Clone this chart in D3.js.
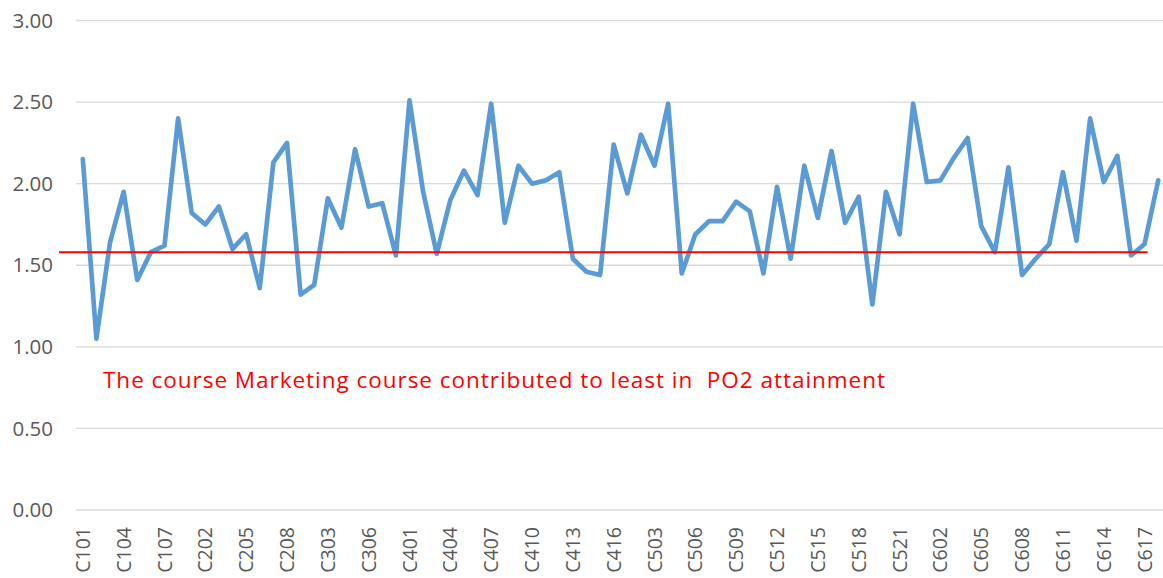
<!DOCTYPE html>
<html>
<head>
<meta charset="utf-8">
<script src="https://cdn.jsdelivr.net/npm/d3@7"></script>
<style>
  html, body { margin: 0; padding: 0; background: #fff; }
  svg { display: block; font-family: "Open Sans", sans-serif; }
</style>
</head>
<body>
<div id="chart"></div>
<script>
// course codes, one point per course
const courses = [
  'C101','C102','C103','C104','C105','C106','C107','C108',
  'C201','C202','C203','C204','C205','C206','C207','C208',
  'C301','C302','C303','C304','C305','C306','C307','C308',
  'C401','C402','C403','C404','C405','C406','C407','C408',
  'C409','C410','C411','C412','C413','C414','C415','C416',
  'C501','C502','C503','C504','C505','C506','C507','C508',
  'C509','C510','C511','C512','C513','C514','C515','C516',
  'C517','C518','C519','C520','C521','C522',
  'C601','C602','C603','C604','C605','C606','C607','C608',
  'C609','C610','C611','C612','C613','C614','C615','C616',
  'C617','C618'
]

// PO2 attainment per course
const attainment = [
  2.15, 1.05, 1.64, 1.95, 1.41, 1.58, 1.62, 2.40,
  1.82, 1.75, 1.86, 1.60, 1.69, 1.36, 2.13, 2.25,
  1.32, 1.38, 1.91, 1.73, 2.21, 1.86, 1.88, 1.56,
  2.51, 1.95, 1.57, 1.90, 2.08, 1.93, 2.49, 1.76,
  2.11, 2.00, 2.02, 2.07, 1.54, 1.46, 1.44, 2.24,
  1.94, 2.30, 2.11, 2.49, 1.45, 1.69, 1.77, 1.77,
  1.89, 1.83, 1.45, 1.98, 1.54, 2.11, 1.79, 2.20,
  1.76, 1.92, 1.26, 1.95, 1.69, 2.49,
  2.01, 2.02, 2.16, 2.28, 1.74, 1.58, 2.10, 1.44,
  1.54, 1.63, 2.07, 1.65, 2.40, 2.01, 2.17, 1.56,
  1.63, 2.02
]

const yTicks = [0, 0.5, 1, 1.5, 2, 2.5, 3]
const threshold = 1.58
const note = 'The course Marketing course contributed to least in \u00a0PO2 attainment'

const W = 1163, H = 578
const margin = { top: 20.5, right: -2, bottom: 68, left: 76 }

const svg = d3.select('#chart').append('svg')
  .attr('width', W)
  .attr('height', H)

const x = d3.scaleBand()
  .domain(courses)
  .range([margin.left, W - margin.right])
  .padding(0)

const y = d3.scaleLinear()
  .domain([0, 3])
  .range([H - margin.bottom, margin.top])

const cx = d => x(d) + x.bandwidth() / 2

// gridlines
svg.append('g')
  .selectAll('line')
  .data(yTicks)
  .join('line')
    .attr('x1', margin.left)
    .attr('x2', W)
    .attr('y1', d => y(d))
    .attr('y2', d => y(d))
    .attr('stroke', '#d9d9d9')
    .attr('stroke-width', 1.3)

// y labels
svg.append('g')
  .selectAll('text')
  .data(yTicks)
  .join('text')
    .attr('x', 53)
    .attr('y', d => y(d))
    .attr('dy', '0.35em')
    .attr('text-anchor', 'end')
    .attr('fill', '#595959')
    .attr('font-size', '20.5px')
    .text(d => d3.format('.2f')(d))

// x labels, every third course
svg.append('g')
  .selectAll('text')
  .data(courses.filter((d, i) => i % 3 === 0))
  .join('text')
    .attr('transform', d => `translate(${cx(d)},${y(0) + 17}) rotate(-90)`)
    .attr('dy', '0.36em')
    .attr('text-anchor', 'end')
    .attr('fill', '#595959')
    .attr('font-size', '19.5px')
    .text(d => d)

// series line
const line = d3.line()
  .x((d, i) => cx(courses[i]))
  .y(d => y(d))

svg.append('path')
  .datum(attainment)
  .attr('d', line)
  .attr('fill', 'none')
  .attr('stroke', '#5b9bd5')
  .attr('stroke-width', 4.7)
  .attr('stroke-linejoin', 'round')
  .attr('stroke-linecap', 'round')

// red reference line
svg.append('line')
  .attr('x1', 59)
  .attr('x2', cx('C617') + 3)
  .attr('y1', y(threshold))
  .attr('y2', y(threshold))
  .attr('stroke', '#ff0000')
  .attr('stroke-width', 2)

// annotation
svg.append('text')
  .attr('x', 103)
  .attr('y', 388)
  .attr('fill', '#ff0000')
  .attr('font-size', '22.5px')
  .attr('textLength', 782)
  .attr('lengthAdjust', 'spacing')
  .text(note)
</script>
</body>
</html>
